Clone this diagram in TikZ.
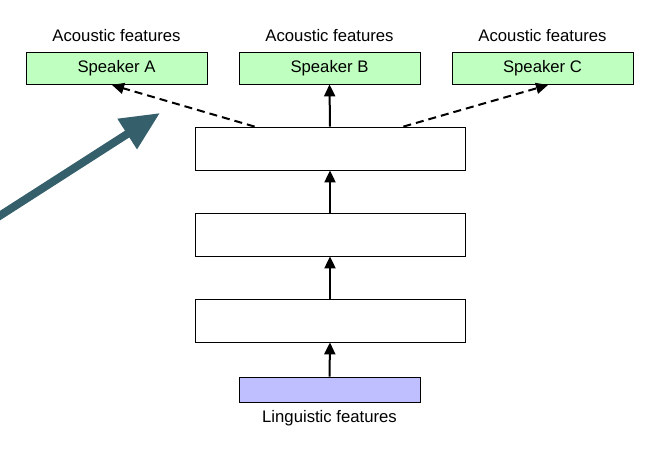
\documentclass[tikz,border=0pt]{standalone}
\usepackage{fontspec}
\setmainfont{Liberation Sans}
\usetikzlibrary{arrows.meta,calc}
\definecolor{spk}{HTML}{BFFFBF}
\definecolor{lng}{HTML}{BFBFFF}
\definecolor{teal}{HTML}{345F6B}
\begin{document}
\begin{tikzpicture}[x=1pt,y=-1pt,
  spkbox/.style={draw=black,line width=0.8pt,fill=spk,minimum width=181pt,minimum height=32pt,inner sep=0pt,font=\fontsize{16.7}{19}\selectfont},
  hidbox/.style={draw=black,line width=0.8pt,fill=white,minimum width=270pt,minimum height=43pt,inner sep=0pt},
  lngbox/.style={draw=black,line width=0.8pt,fill=lng,minimum width=181pt,minimum height=25pt,inner sep=0pt},
  lbl/.style={font=\fontsize{16.7}{19}\selectfont,inner sep=0pt},
  conn/.style={line width=2pt,-{Triangle[length=12pt,width=11pt]}},
  dconn/.style={conn,dash pattern=on 8pt off 5pt}]
\useasboundingbox (0,0) rectangle (664,458);
\node[spkbox] (A) at (116.5,68) {Speaker A};
\node[spkbox] (B) at (329.5,68) {Speaker B};
\node[spkbox] (C) at (542.5,68) {Speaker C};
\node[lbl] (la) at (116.5,36) {Acoustic features};
\node[lbl] (lb) at (329.5,36) {Acoustic features};
\node[lbl] (lc) at (542.5,36) {Acoustic features};
\node[hidbox] (h1) at (330,148.5) {};
\node[hidbox] (h2) at (330,234.5) {};
\node[hidbox] (h3) at (330,320.5) {};
\node[lngbox] (ling) at (329.5,389.5) {};
\node[lbl] (ll) at (329.5,418) {Linguistic features};
\draw[conn] (ling.north) -- (h3.south);
\draw[conn] (h3.north) -- (h2.south);
\draw[conn] (h2.north) -- (h1.south);
\draw[conn] (h1.north) -- (B.south);
\coordinate (dl) at ($(h1.north west)+(60,0)$);
\coordinate (dr) at ($(h1.north east)+(-62,0)$);
\coordinate (ea) at (112,85);
\coordinate (ec) at (548,85);
\draw[dconn] (dl) -- (ea);
\draw[dconn] (dr) -- (ec);
\coordinate (ts) at (-10,222);
\coordinate (tt) at (160,113);
\draw[teal,line width=8pt,-{Triangle[length=39pt,width=34pt]}] (ts) -- (tt);
\end{tikzpicture}
\end{document}
